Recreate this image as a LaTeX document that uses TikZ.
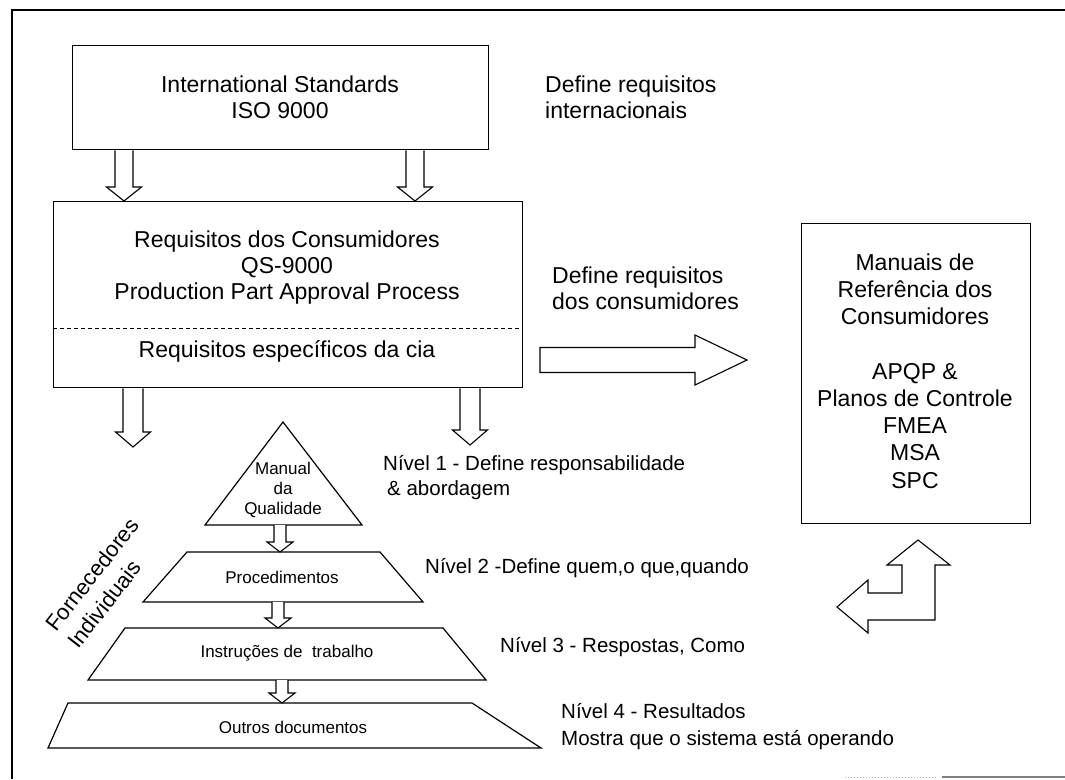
\documentclass[tikz,border=0pt]{standalone}
\usepackage{fontspec}
\setmainfont{Liberation Sans}
\usetikzlibrary{calc}

% vertical block arrow: #1 start, #2 tip, #3 half shaft, #4 half head, #5 head length
\newcommand{\blockdown}[5]{%
  \filldraw[blockarrow] let \p1=(#1), \p2=(#2) in
    (\x1-#3pt,\y1) -- (\x1-#3pt,\y2+#5pt) -- (\x1-#4pt,\y2+#5pt) -- (\x1,\y2)
    -- (\x1+#4pt,\y2+#5pt) -- (\x1+#3pt,\y2+#5pt) -- (\x1+#3pt,\y1);}
% horizontal block arrow pointing right
\newcommand{\blockright}[5]{%
  \filldraw[blockarrow] let \p1=(#1), \p2=(#2) in
    (\x1,\y1+#3pt) -- (\x2-#5pt,\y1+#3pt) -- (\x2-#5pt,\y1+#4pt) -- (\x2,\y1)
    -- (\x2-#5pt,\y1-#4pt) -- (\x2-#5pt,\y1-#3pt) -- (\x1,\y1-#3pt) -- cycle;}

\begin{document}
\begin{tikzpicture}[x=1pt,y=-1pt,
  frameline/.style={line width=1.1pt},
  boxnode/.style={draw, line width=1.3pt, inner sep=0pt, anchor=north west},
  levelshape/.style={draw, line width=1.2pt, line join=miter},
  bigtxt/.style={font=\fontsize{23}{26}\selectfont, align=center, inner sep=0pt},
  lvltxt/.style={font=\fontsize{20.5}{25}\selectfont, align=left, inner sep=0pt, anchor=west},
  pyrtxt/.style={font=\fontsize{17}{20}\selectfont, align=center, inner sep=0pt},
  blockarrow/.style={draw=black, fill=white, line width=1.1pt, line join=miter},
]
\useasboundingbox (0,0) rectangle (1065,779);

% page frame
\draw[frameline] (12,779) -- (12,10) -- (1065,10);
\draw[gray!60, dotted, line width=1pt] (845,777) -- (936,777);
\draw[gray, line width=1.2pt] (942,777) -- (1065,777);

% ISO 9000 box
\node[boxnode, minimum width=416pt, minimum height=104pt] (iso) at (72,45) {};
\node[bigtxt] (isotxt) at (280,97) {International Standards\\ISO 9000};
\node[bigtxt, align=left, anchor=west] (defint) at (545,97) {Define requisitos\\internacionais};

% customer requirements box
\node[boxnode, minimum width=469pt, minimum height=186pt] (qs) at (53,201) {};
\node[bigtxt] (qstxt) at (287,268) {Requisitos dos Consumidores\\QS-9000\\Production Part Approval Process};
\draw[dashed, line width=1pt, dash pattern=on 4pt off 3pt] (qs.west |- 0,328) -- (qs.east |- 0,328);
\node[bigtxt] (cia) at (287,351) {Requisitos específicos da cia};

% arrows ISO -> QS
\coordinate (a1) at (124,0);
\coordinate (a2) at (415,0);
\blockdown{iso.south -| a1}{qs.north -| a1}{9}{17.5}{14}
\blockdown{iso.south -| a2}{qs.north -| a2}{9}{17.5}{14}

% reference manuals box
\node[boxnode, minimum width=229pt, minimum height=300pt] (man) at (801,223) {};
\node[bigtxt, font=\fontsize{23}{27.2}\selectfont] (mantxt) at (915,371)
  {Manuais de\\Referência dos\\Consumidores\\[27.2pt]APQP \&\\Planos de Controle\\FMEA\\MSA\\SPC};

% customer requirements -> manuals
\node[bigtxt, align=left, anchor=west] (defcons) at (552,288) {Define requisitos\\dos consumidores};
\coordinate (r1) at (540,360);
\coordinate (r2) at (747,360);
\blockright{r1}{r2}{12.5}{25}{52}

% feedback arrow below the manuals
\filldraw[blockarrow] (902,565) -- (887,565) -- (918,540) -- (950,565) -- (935,565)
  -- (935,620) -- (868,620) -- (868,633) -- (837,607) -- (868,580) -- (868,593)
  -- (902,593) -- cycle;

% arrows QS -> supplier level
\coordinate (b1) at (133,0);
\coordinate (b2) at (470,0);
\coordinate (b1e) at (133,447);
\coordinate (b2e) at (470,445);
\blockdown{qs.south -| b1}{b1e}{10}{17.5}{15}
\blockdown{qs.south -| b2}{b2e}{10}{17.5}{15}

% document pyramid
\draw[levelshape] (283,422) -- (362,525) -- (205,525) -- cycle;
\draw[levelshape] (187,552) -- (380,552) -- (423,602) -- (143,602) -- cycle;
\draw[levelshape] (125,628) -- (443,628) -- (486,680) -- (88,680) -- cycle;
\draw[levelshape] (68,703) -- (472,703) -- (541,748) -- (48,748) -- cycle;

\node[pyrtxt] (l1) at (283,490) {Manual\\da\\Qualidade};
\node[pyrtxt] (l2) at (282,577) {Procedimentos};
\node[pyrtxt] (l3) at (287,653) {Instruções de\ \ trabalho};
\node[pyrtxt] (l4) at (293,727) {Outros documentos};

\coordinate (p1s) at (280,525);
\coordinate (p1e) at (280,552);
\coordinate (p2s) at (278,602);
\coordinate (p2e) at (278,628);
\coordinate (p3s) at (282,680);
\coordinate (p3e) at (282,703);
\blockdown{p1s}{p1e}{6}{13}{10}
\blockdown{p2s}{p2e}{6}{13}{10}
\blockdown{p3s}{p3e}{6}{13}{10}

% level descriptions
\node[lvltxt] (n1) at (383,477.5) {Nível 1 - Define responsabilidade\\\hspace*{4pt}\& abordagem};
\node[lvltxt] (n2) at (425,568) {Nível 2 -Define quem,o que,quando};
\node[lvltxt] (n3) at (500,647) {Nível 3 - Respostas, Como};
\node[lvltxt, font=\fontsize{20.5}{27}\selectfont] (n4) at (561,726.5)
  {Nível 4 - Resultados\\Mostra que o sistema está operando};

% side label
\node[font=\fontsize{22}{28}\selectfont, align=left, rotate=52, inner sep=0pt] (forn) at (103,583)
  {Fornecedores\\Individuais};
\end{tikzpicture}
\end{document}
